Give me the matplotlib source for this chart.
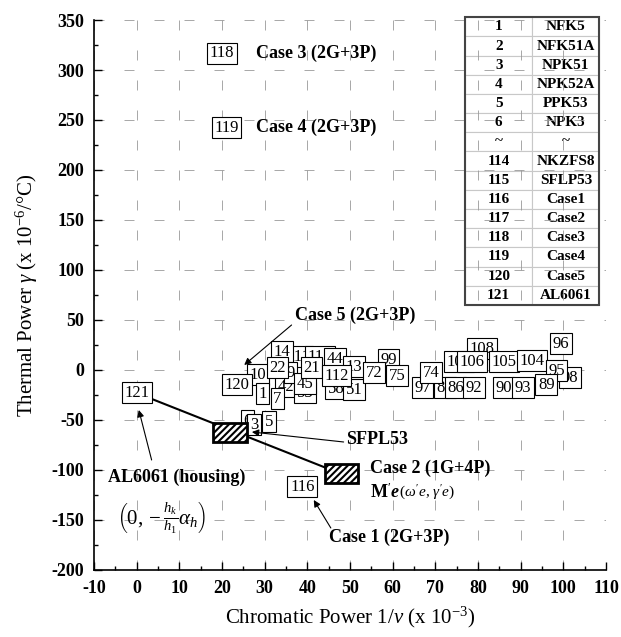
import matplotlib
matplotlib.use("Agg")
import matplotlib.pyplot as plt
from matplotlib.patches import Rectangle
from matplotlib.ticker import MultipleLocator

plt.rcParams['font.family'] = ['Liberation Serif', 'DejaVu Serif']
plt.rcParams['mathtext.fontset'] = 'custom'
plt.rcParams['mathtext.rm'] = 'Liberation Serif'
plt.rcParams['mathtext.it'] = 'Liberation Serif:italic'
plt.rcParams['mathtext.bf'] = 'Liberation Serif:bold'
plt.rcParams['mathtext.bfit'] = 'Liberation Serif:italic:bold'
plt.rcParams['axes.unicode_minus'] = False
plt.rcParams['hatch.linewidth'] = 1.5

# glass / case points (label, chromatic power, thermal power)
back_labels = ["6", "3", "99", "111", "113", "44", "13", "88", "86", "101", "42", "53", "98"]
back_x = [26.0, 27.5, 59.0, 38.0, 43.0, 46.5, 51.0, 72.3, 74.7, 75.6, 35.0, 39.5, 101.5]
back_y = [-51, -55, 10, 13, 13, 11, 3, -18, -18, 8, -17, -23, -8]

front_labels = ["14", "10", "120", "1", "7", "9", "45", "22", "21", "58", "51", "112",
                "72", "75", "97", "74", "108", "92", "90", "93", "106", "105", "104",
                "95", "89", "96", "5", "121", "116", "118", "119"]
front_x = [34.0, 28.4, 23.5, 29.5, 33.0, 36.0, 39.5, 33.0, 41.0, 46.8, 51.0, 46.8,
           55.6, 61.0, 67.0, 69.0, 81.0, 79.0, 86.0, 90.5, 78.6, 86.0, 92.6,
           98.4, 96.0, 99.5, 31.0, 0.0, 38.8, 20.0, 21.0]
front_y = [18, -5, -15, -24, -29, -3, -14, 2, 2, -19, -20, -6,
           -3, -6, -18, -3, 21, -18, -18, -18, 8, 8, 9,
           -1, -15, 26, -52, -23, -117, 317, 242]

# hatched equivalent elements: SFPL53 and Case 2 (M'e)
hatch_x = [21.9, 48.0]
hatch_y = [-63, -104]

# line from AL6061 housing to Case 2
line_x = [0.0, 48.0]
line_y = [-23, -104]

table_rows = [["1", "NFK5"], ["2", "NFK51A"], ["3", "NPK51"], ["4", "NPK52A"],
              ["5", "PPK53"], ["6", "NPK3"], ["~", "~"], ["114", "NKZFS8"],
              ["115", "SFLP53"], ["116", "Case1"], ["117", "Case2"], ["118", "Case3"],
              ["119", "Case4"], ["120", "Case5"], ["121", "AL6061"]]

fig = plt.figure(figsize=(6.21, 6.37), dpi=100)
ax = fig.add_axes([0.1514, 0.1052, 0.8245, 0.8634])

ax.set_xlim(-10, 110)
ax.set_ylim(-200, 350)
ax.xaxis.set_major_locator(MultipleLocator(10))
ax.xaxis.set_minor_locator(MultipleLocator(5))
ax.yaxis.set_major_locator(MultipleLocator(50))
ax.yaxis.set_minor_locator(MultipleLocator(25))
ax.tick_params(which='both', direction='in', width=1)
ax.tick_params(which='major', length=6, labelsize=13, pad=7)
ax.tick_params(which='minor', length=3)
for lab in ax.get_xticklabels() + ax.get_yticklabels():
    lab.set_fontweight('bold')
ax.spines['top'].set_visible(False)
ax.spines['right'].set_visible(False)
ax.spines['left'].set_linewidth(1.2)
ax.spines['bottom'].set_linewidth(1.2)
ax.grid(True, which='major', color='#999999', lw=0.6, linestyle=(0, (12, 24)))
ax.set_axisbelow(True)

ax.set_xlabel(r"Chromatic Power 1/$\mathit{v}$ (x 10$^{-3}$)", fontsize=15, labelpad=6)
ax.set_ylabel(r"Thermal Power $\mathit{\gamma}$ (x 10$^{-6}$/$\degree$C)", fontsize=15, labelpad=8)

ax.plot(line_x, line_y, color='black', lw=1.5, zorder=3)

box = dict(boxstyle='square,pad=0.15', fc='white', ec='black', lw=0.8)
for lab, x, y in zip(back_labels, back_x, back_y):
    ax.text(x, y, lab, fontsize=12, ha='center', va='center', bbox=box, zorder=4)
for lab, x, y in zip(front_labels, front_x, front_y):
    ax.text(x, y, lab, fontsize=12, ha='center', va='center', bbox=box, zorder=5)

for x, y in zip(hatch_x, hatch_y):
    ax.add_patch(Rectangle((x - 3.9, y - 9.5), 7.8, 19, fc='white', ec='black',
                           lw=2, hatch='/////', zorder=6))

bold = dict(fontsize=13, fontweight='bold', va='center', ha='left', zorder=7)
ax.text(28, 317, "Case 3 (2G+3P)", **bold)
ax.text(28, 243, "Case 4 (2G+3P)", **bold)
ax.text(37.2, 55, "Case 5 (2G+3P)", **bold)
ax.text(49, -70, "SFPL53", **bold)
ax.text(54.6, -98, "Case 2 (1G+4P)", **bold)
ax.text(45, -167, "Case 1 (2G+3P)", **bold)
ax.text(-6.7, -107, "AL6061 (housing)", **bold)
ax.text(54.6, -122, r"M$'$$\mathbfit{e}$", fontsize=13, fontweight='bold', va='center', ha='left')
ax.text(61.5, -123, r"($\omega'\mathit{e}$, $\gamma'\mathit{e}$)", fontsize=11, va='center', ha='left')
ax.text(-4.7, -147, r"$\left(0,-\frac{h_k}{h_1}\alpha_h\right)$", fontsize=15, va='center', ha='left')

arrow = dict(arrowstyle='-|>', color='black', lw=0.8, mutation_scale=10, shrinkA=0, shrinkB=0)
ax.annotate("", xy=(25.2, 5), xytext=(36.3, 45), arrowprops=arrow, zorder=7)
ax.annotate("", xy=(27, -62), xytext=(48.5, -72), arrowprops=arrow, zorder=7)
ax.annotate("", xy=(41.5, -130), xytext=(45.5, -158), arrowprops=arrow, zorder=7)
ax.annotate("", xy=(0.5, -40), xytext=(3.5, -90), arrowprops=arrow, zorder=7)

tbl = ax.table(cellText=table_rows, cellLoc='center', bbox=[0.725, 0.482, 0.262, 0.523])
tbl.auto_set_font_size(False)
tbl.set_fontsize(11)
for (r, c), cell in tbl.get_celld().items():
    cell.set_edgecolor('#c8c8c8')
    cell.set_linewidth(0.8)
    cell.get_text().set_fontweight('bold')
    cell.set_zorder(8)
ax.add_patch(Rectangle((0.725, 0.482), 0.262, 0.523, transform=ax.transAxes, fill=False,
                       ec='#444444', lw=1.5, zorder=9, clip_on=False))

fig.savefig("out.png", dpi=100)
